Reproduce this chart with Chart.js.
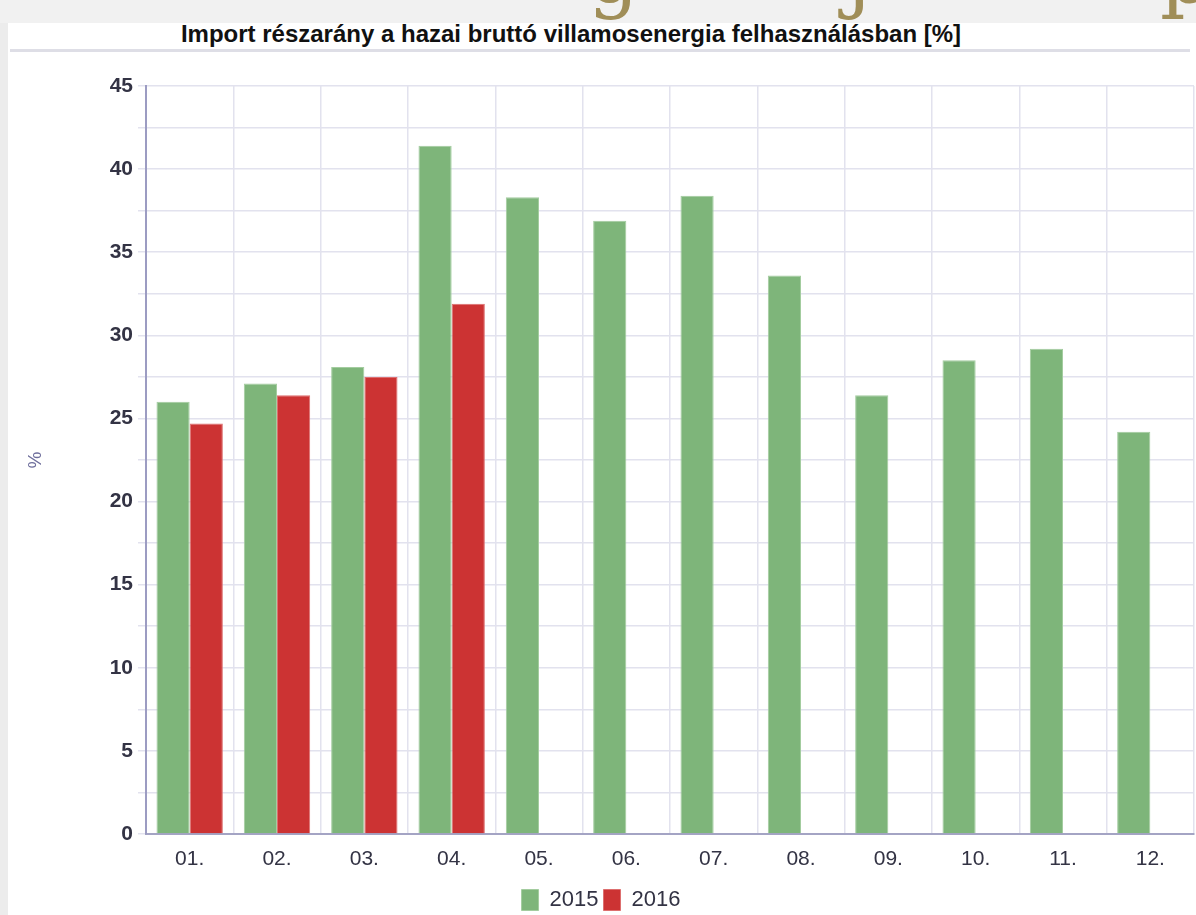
<!DOCTYPE html>
<html lang="hu">
<head>
<meta charset="UTF-8">
<title>Import részarány</title>
<script src="https://cdn.jsdelivr.net/npm/chart.js"></script>
<style>
  html, body { margin: 0; padding: 0; background: #ececec; }
  body { width: 1196px; height: 915px; position: relative; overflow: hidden; font-family: "Liberation Sans", Arial, sans-serif; }
  #deco { position: absolute; left: 0; top: 0; width: 1196px; height: 23px; overflow: hidden; background: #f1f1f1; }
  #deco span { position: absolute; top: -72px; font-family: "DejaVu Serif", serif; font-size: 80px; line-height: 93px; color: #a08e58; }
  #panel { position: absolute; left: 8px; top: 23px; width: 1188px; height: 898px; background: #fff; }
  #title { position: absolute; left: 0; top: -3px; width: 1126px; text-align: center; font-weight: bold; font-size: 24px; color: #111; }
  #rule { position: absolute; left: 2px; top: 26px; width: 1180px; height: 3px; background: #dedee6; }
  #wrap { position: absolute; left: 0; top: 32px; width: 1188px; height: 866px; }
</style>
</head>
<body>
<div id="deco"><span style="left:588px">g</span><span style="left:846px">j</span><span style="left:1160px">p</span></div>
<div id="panel">
  <div id="title">Import részarány a hazai bruttó villamosenergia felhasználásban [%]</div>
  <div id="rule"></div>
  <div id="wrap"><canvas id="importChart"></canvas></div>
</div>

<script>
    const honapok = ['01.', '02.', '03.', '04.', '05.', '06.', '07.', '08.', '09.', '10.', '11.', '12.'];
    const ev2015 = [26.0, 27.1, 28.1, 41.4, 38.3, 36.9, 38.4, 33.6, 26.4, 28.5, 29.2, 24.2];
    const ev2016 = [24.7, 26.4, 27.5, 31.9, null, null, null, null, null, null, null, null];

    const ctx = document.getElementById('importChart').getContext('2d');
    const chart = new Chart(ctx, {
        type: 'bar',
        data: {
            labels: honapok,
            datasets: [{
                label: '2015',
                data: ev2015,
                backgroundColor: '#7eb57a',
                borderColor: '#a3cc9f',
                borderWidth: 1
            }, {
                label: '2016',
                data: ev2016,
                backgroundColor: '#cc3333',
                borderColor: '#dd6f6f',
                borderWidth: 1
            }]
        },
        options: {
            responsive: true,
            maintainAspectRatio: false,
            animation: false,
            categoryPercentage: 0.76,
            barPercentage: 1.0,
            layout: { padding: { top: 31, right: 2, left: 0, bottom: 0 } },
            plugins: {
                tooltip: { enabled: false },
                legend: {
                    position: 'bottom',
                    labels: {
                        boxWidth: 17,
                        boxHeight: 21,
                        padding: 5,
                        color: '#333344',
                        font: { family: 'Liberation Sans', size: 22 }
                    }
                }
            },
            scales: {
                x: {
                    grid: { color: '#e2e2ee', lineWidth: 1.5, drawTicks: false },
                    border: { color: '#a4a4c4', width: 2 },
                    ticks: {
                        color: '#333344',
                        padding: 13,
                        font: { family: 'Liberation Sans', size: 21 }
                    },
                    afterFit: s => { s.height = 50; }
                },
                y: {
                    min: 0,
                    max: 45,
                    grid: { color: '#e2e2ee', lineWidth: 1.5, tickLength: 8 },
                    border: { color: '#9c9cc2', width: 2 },
                    ticks: {
                        stepSize: 2.5,
                        padding: 5,
                        color: '#333344',
                        font: { family: 'Liberation Sans', size: 21, weight: 'bold' },
                        callback: v => (v % 5 === 0 ? v : '')
                    },
                    title: {
                        display: true,
                        text: '%',
                        color: '#6e6e9c',
                        padding: { top: 16, bottom: 0 },
                        font: { family: 'Liberation Sans', size: 19 }
                    },
                    afterFit: s => { s.width = 138; }
                }
            }
        }
    });
</script>
</body>
</html>
